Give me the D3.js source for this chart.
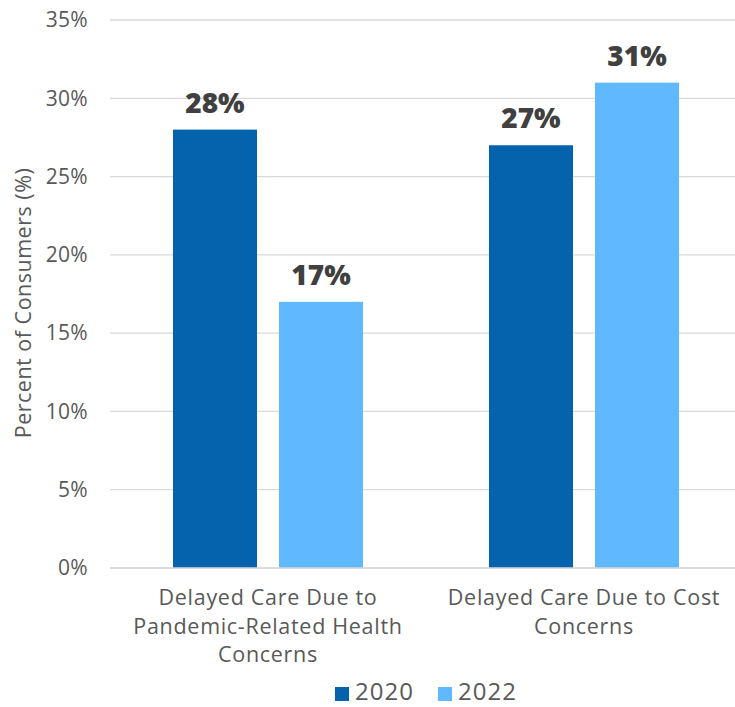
<!DOCTYPE html>
<html><head><meta charset="utf-8">
<script src="https://cdn.jsdelivr.net/npm/d3@7"></script>
<style>body{margin:0;background:#fff}svg{display:block}</style>
</head><body>
<svg id="c" width="735" height="707"></svg>
<script>
const categories = [["Delayed Care Due to", "Pandemic-Related Health", "Concerns"], ["Delayed Care Due to Cost", "Concerns"]];
const seriesNames = ["2020", "2022"];
const values2020 = [28, 27];
const values2022 = [17, 31];
const yTicks = [0, 5, 10, 15, 20, 25, 30, 35];
const colors = ["#0563ad", "#60b8ff"];

const svg = d3.select("#c");
const font = "'Open Sans', sans-serif";
const m = {l: 110, r: -7, t: 20, b: 139};
const W = 735, H = 707;
const x0 = d3.scaleBand().domain([0, 1]).range([m.l, W - m.r]).paddingInner(0).paddingOuter(0);
const x1 = d3.scaleBand().domain(seriesNames).range([0, x0.bandwidth()]).paddingInner(0.2075).paddingOuter(0.594);
const y = d3.scaleLinear().domain([0, 35]).range([H - m.b, m.t]);

// gridlines
svg.append("g").selectAll("line").data(yTicks).join("line")
  .attr("x1", m.l).attr("x2", W).attr("y1", d => y(d)).attr("y2", d => y(d))
  .attr("stroke", "#d9d9d9").attr("stroke-width", 1.3);

// y axis labels
const ya = svg.append("g").attr("transform", `translate(${m.l - 22},0)`)
  .call(d3.axisLeft(y).tickValues(yTicks).tickFormat(d => d + "%").tickSize(0).tickPadding(0));
ya.select(".domain").remove();
ya.selectAll("text").attr("font-family", font).attr("font-size", 21).attr("letter-spacing", 0.3).attr("fill", "#595959");

const data = [0, 1].map(i => ({i, vals: [values2020[i], values2022[i]]}));
const groups = svg.append("g").selectAll("g").data(data).join("g")
  .attr("transform", d => `translate(${x0(d.i)},0)`);
groups.selectAll("rect").data(d => d.vals.map((v, k) => ({v, k}))).join("rect")
  .attr("x", d => x1(seriesNames[d.k])).attr("width", x1.bandwidth())
  .attr("y", d => y(d.v)).attr("height", d => y(0) - y(d.v))
  .attr("fill", d => colors[d.k]);
groups.selectAll("text.v").data(d => d.vals.map((v, k) => ({v, k}))).join("text")
  .attr("class", "v")
  .attr("x", d => x1(seriesNames[d.k]) + x1.bandwidth() / 2)
  .attr("y", d => y(d.v) - 17)
  .attr("text-anchor", "middle").attr("font-family", font).attr("font-weight", 800)
  .attr("font-size", 28).attr("fill", "#404040")
  .text(d => d.v + "%");

// baseline
svg.append("line").attr("x1", m.l).attr("x2", W).attr("y1", y(0)).attr("y2", y(0))
  .attr("stroke", "#d9d9d9").attr("stroke-width", 1.3);

// category labels
svg.append("g").selectAll("text").data(categories).join("text")
  .attr("text-anchor", "middle").attr("font-family", font).attr("font-size", 21.5).attr("letter-spacing", 0.7).attr("fill", "#595959")
  .each(function(lines, i) {
    d3.select(this).selectAll("tspan").data(lines).join("tspan")
      .attr("x", x0(i) + x0.bandwidth() / 2)
      .attr("y", (d, j) => y(0) + 37 + j * 28.5)
      .text(d => d);
  });

// y axis title
svg.append("text").attr("transform", `translate(31,303) rotate(-90)`)
  .attr("text-anchor", "middle").attr("font-family", font).attr("font-size", 21.5).attr("letter-spacing", 0.5).attr("fill", "#595959")
  .text("Percent of Consumers (%)");

// legend
const leg = svg.append("g");
const legX = [335, 438];
seriesNames.forEach((s, k) => {
  leg.append("rect").attr("x", legX[k]).attr("y", 687).attr("width", 14).attr("height", 14).attr("fill", colors[k]);
  leg.append("text").attr("x", legX[k] + 20).attr("y", 700).attr("font-family", font).attr("font-size", 24)
    .attr("letter-spacing", 1).attr("fill", "#595959").text(s);
});
</script>
</body></html>
